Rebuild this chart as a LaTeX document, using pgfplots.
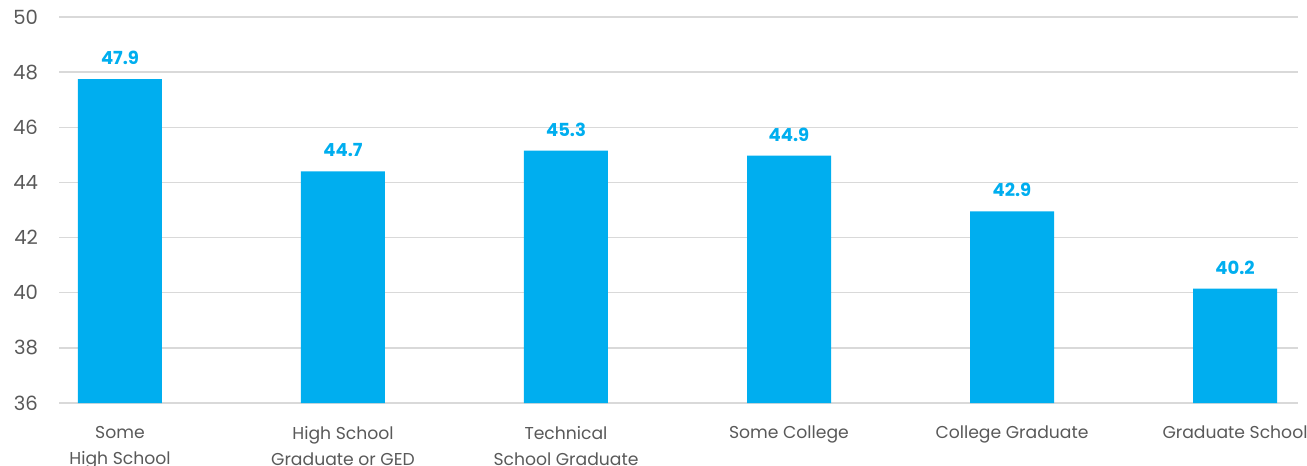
\documentclass[border=0pt]{standalone}
\usepackage{pgfplots}
\pgfplotsset{compat=1.18}
\usepackage{fontspec}
\setmainfont{Poppins}
\definecolor{barblue}{HTML}{00AEEF}
\definecolor{txtgray}{HTML}{595959}
\definecolor{gridgray}{HTML}{D9D9D9}
\begin{document}
\begin{tikzpicture}
\useasboundingbox (-29.5pt,-31.5pt) rectangle (624pt,201.5pt);
\begin{axis}[
  scale only axis,
  width=619.5pt, height=193pt,
  xmin=-0.2735, xmax=5.2825,
  ymin=36, ymax=50,
  ytick={36,38,...,50},
  xtick={0,1,2,3,4,5},
  xticklabels={{Some\\High School},{High School\\Graduate or GED},{Technical\\School Graduate},{Some College},{College Graduate},{Graduate School}},
  xticklabel style={align=center, font=\fontsize{8.6}{13}\selectfont, text=txtgray, anchor=north, yshift=-8pt},
  yticklabel style={font=\fontsize{9.8}{10}\selectfont, text=txtgray, xshift=-7pt},
  /pgf/number format/assume math mode=true,
  axis line style={draw=none},
  major tick length=0pt,
  ymajorgrids, grid style={gridgray, line width=0.7pt},
  clip=false,
  point meta=explicit symbolic,
  nodes near coords={\pgfplotspointmeta},
  nodes near coords style={font=\bfseries\fontsize{9}{10}\selectfont, text=barblue, anchor=south, inner sep=0pt, yshift=7pt},
]
\addplot[ybar, bar width=42pt, fill=barblue, draw=none] coordinates {
 (0,47.75) [47.9]
 (1,44.40) [44.7]
 (2,45.15) [45.3]
 (3,44.97) [44.9]
 (4,42.95) [42.9]
 (5,40.15) [40.2]
};
\end{axis}
\end{tikzpicture}
\end{document}
